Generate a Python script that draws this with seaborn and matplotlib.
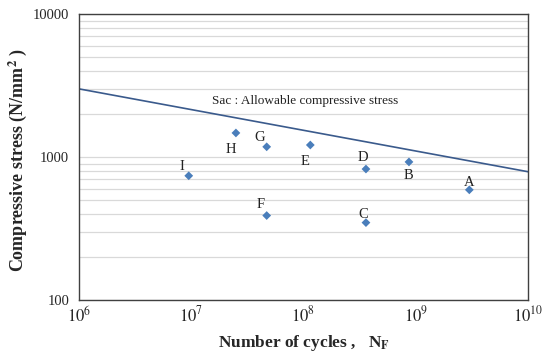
import numpy as np
import pandas as pd
import matplotlib
matplotlib.use("Agg")
import matplotlib.pyplot as plt
import seaborn as sns
from matplotlib.ticker import LogLocator, FixedLocator, FuncFormatter, NullFormatter

# ---------- Data ----------
labels = ['A', 'B', 'C', 'D', 'E', 'F', 'G', 'H', 'I']
cycles = [3.0e9, 8.7e8, 3.6e8, 3.6e8, 1.15e8, 4.7e7, 4.7e7, 2.5e7, 9.5e6]
stress = [590, 925, 348, 825, 1215, 390, 1180, 1475, 740]

sac_cycles = [1e6, 1e10]
sac_stress = [3000, 790]

# label offsets in points (dx, dy) relative to each marker
label_offsets = {
    'A': (0, 5), 'B': (0, -10), 'C': (-2, 6), 'D': (-2, 8), 'E': (-4, -12),
    'F': (-4, 8), 'G': (-5, 7), 'H': (-4, -12), 'I': (-5, 7),
}

df = pd.DataFrame({'label': labels, 'cycles': cycles, 'stress': stress})
df_sac = pd.DataFrame({'cycles': sac_cycles, 'stress': sac_stress})

# ---------- Plot ----------
sns.set_style("white")
plt.rcParams['font.family'] = ['Liberation Serif', 'DejaVu Serif']
plt.rcParams['mathtext.fontset'] = 'stix'

fig = plt.figure(figsize=(5.47, 3.53), dpi=100)
ax = fig.add_axes([0.1444, 0.150, 0.8209, 0.810])

ax.set_xscale('log')
ax.set_yscale('log')
ax.set_xlim(1e6, 1e10)
ax.set_ylim(100, 10000)

ax.yaxis.set_major_locator(FixedLocator([100, 1000, 10000]))
ax.yaxis.set_minor_locator(LogLocator(base=10, subs=np.arange(2, 10)))
ax.yaxis.set_minor_formatter(NullFormatter())
ax.yaxis.set_major_formatter(FuncFormatter(lambda v, p: f"{int(v)}"))
ax.grid(axis='y', which='both', color='#d9d9d9', linewidth=0.9)
ax.set_axisbelow(True)

ax.xaxis.set_major_locator(FixedLocator([1e6, 1e7, 1e8, 1e9, 1e10]))
ax.xaxis.set_minor_locator(FixedLocator([]))
ax.xaxis.set_major_formatter(FuncFormatter(lambda v, p: r"$10^{%d}$" % int(round(np.log10(v)))))

sns.lineplot(data=df_sac, x='cycles', y='stress', ax=ax, color='#3a5a8c', linewidth=1.2)
sns.scatterplot(data=df, x='cycles', y='stress', ax=ax, marker='D', s=20,
                color='#4a7ebb', edgecolor='none', zorder=3)

for lab, cx, sy in zip(labels, cycles, stress):
    dx, dy = label_offsets[lab]
    ax.annotate(lab, (cx, sy), xytext=(dx, dy), textcoords='offset points',
                ha='center', va='center', fontsize=10.5, color='#222222')

ax.text(1.53e7, 2470, 'Sac : Allowable compressive stress', fontsize=9.5,
        ha='left', va='center', color='#222222')

for s in ax.spines.values():
    s.set_color('#404040')
    s.set_linewidth(1.0)

ax.tick_params(axis='y', which='major', length=4, color='#808080', labelsize=10.5, pad=3)
ax.tick_params(axis='y', which='minor', length=0)
ax.tick_params(axis='x', which='major', length=3, color='#c0c0c0', labelsize=12, pad=1)

ax.set_xlabel(r'Number of cycles ,   N$_{\mathbf{F}}$', fontsize=12.5, fontweight='bold')
ax.set_ylabel(r'Compressive stress (N/mm$^{\mathbf{2}}$ )', fontsize=13, fontweight='bold')
ax.xaxis.set_label_coords(0.5, -0.115)
ax.yaxis.set_label_coords(-0.112, 0.49)

fig.savefig('out.png', dpi=100)
